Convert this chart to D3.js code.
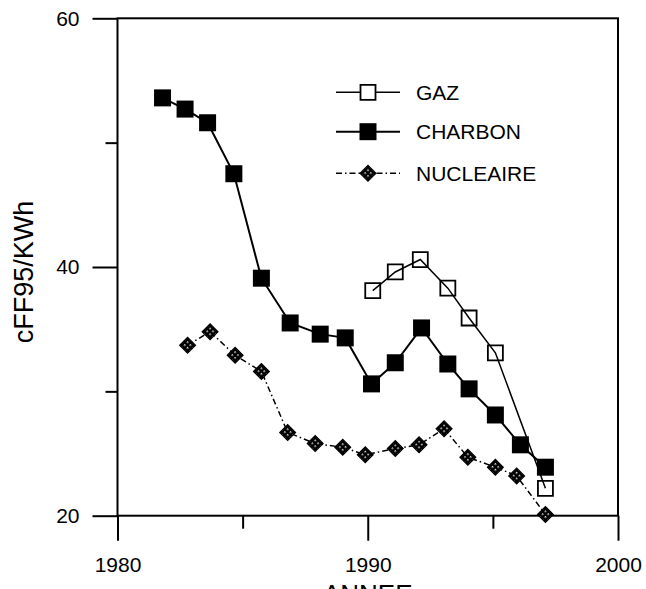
<!DOCTYPE html>
<html>
<head>
<meta charset="utf-8">
<script src="https://cdn.jsdelivr.net/npm/d3@7"></script>
<style>
	body { margin: 0; background: #fff; }
	text { font-family: Arial, "Liberation Sans", sans-serif; fill: #000; }
	.axis path { display: none; }
	.axis line { stroke: #000; stroke-width: 2; }
	.axis text { font-size: 21px; }
</style>
</head>
<body>
<svg class="chart"></svg>
<script>
// data
var gazYears = [1990.2, 1991.1, 1992.1, 1993.2, 1994.05, 1995.1, 1997.1];
var gazValues = [38.1, 39.6, 40.6, 38.3, 35.9, 33.1, 22.2];

var charbonYears = [1981.8, 1982.7, 1983.6, 1984.65, 1985.75, 1986.9, 1988.1, 1989.1,
	1990.15, 1991.1, 1992.15, 1993.2, 1994.05, 1995.1, 1996.1, 1997.1];
var charbonValues = [53.6, 52.7, 51.6, 47.5, 39.1, 35.5, 34.6, 34.3,
	30.6, 32.3, 35.1, 32.2, 30.2, 28.1, 25.7, 23.9];

var nucleaireYears = [1982.8, 1983.7, 1984.7, 1985.75, 1986.8, 1987.9, 1989.0, 1989.9,
	1991.1, 1992.05, 1993.05, 1994.0, 1995.1, 1995.95, 1997.1];
var nucleaireValues = [33.7, 34.8, 32.9, 31.6, 26.7, 25.8, 25.5, 24.9,
	25.4, 25.7, 27.0, 24.7, 23.9, 23.2, 20.1];

var xMajorTicks = [1980, 1990, 2000];
var xMinorTicks = [1985, 1995];
var yMajorTicks = [20, 40, 60];
var yMinorTicks = [30, 50];

var seriesNames = ["GAZ", "CHARBON", "NUCLEAIRE"];

function drawChart() {
	var margin = {top: 18.3, left: 117.5},
		width = 500.5,
		height = 497.4;

	var svg = d3.select(".chart")
		.attr("width", 646)
		.attr("height", 589);

	// diamond fill: dark with light dots
	var pat = svg.append("defs").append("pattern")
		.attr("id", "dots")
		.attr("patternUnits", "userSpaceOnUse")
		.attr("width", 4)
		.attr("height", 4);
	pat.append("rect").attr("width", 4).attr("height", 4).attr("fill", "#000");
	pat.append("rect").attr("x", 1).attr("y", 1).attr("width", 1.5).attr("height", 1.5).attr("fill", "#eee");

	var chart = svg.append("g")
		.attr("transform", "translate(" + margin.left + "," + margin.top + ")");

	var x = d3.scaleLinear().domain([1980, 2000]).range([0, width]);
	var y = d3.scaleLinear().domain([20, 60]).range([height, 0]);

	// y axis, major and minor ticks
	chart.append("g")
		.attr("class", "y axis")
		.call(d3.axisLeft(y).tickValues(yMajorTicks).tickSize(25).tickPadding(13).tickFormat(d3.format("d")));
	chart.append("g")
		.attr("class", "y axis minor")
		.call(d3.axisLeft(y).tickValues(yMinorTicks).tickSize(12).tickFormat(""));

	// x axis, major and minor ticks
	chart.append("g")
		.attr("class", "x axis")
		.attr("transform", "translate(0," + height + ")")
		.call(d3.axisBottom(x).tickValues(xMajorTicks).tickSize(25).tickPadding(16).tickFormat(d3.format("d")));
	chart.append("g")
		.attr("class", "x axis minor")
		.attr("transform", "translate(0," + height + ")")
		.call(d3.axisBottom(x).tickValues(xMinorTicks).tickSize(13).tickFormat(""));

	// frame
	chart.append("rect")
		.attr("width", width)
		.attr("height", height)
		.attr("fill", "none")
		.attr("stroke", "#000")
		.attr("stroke-width", 2);

	// axis titles
	chart.append("text")
		.attr("transform", "translate(" + (24 - margin.left) + "," + (y(40) + 5) + ") rotate(-90)")
		.attr("text-anchor", "middle")
		.attr("dy", "0.35em")
		.style("font-size", "27px")
		.text("cFF95/KWh");

	// x title sits partly below the bottom edge, as in the source picture
	chart.append("text")
		.attr("x", x(1990))
		.attr("y", 602.6 - margin.top)
		.attr("text-anchor", "middle")
		.style("font-size", "26px")
		.text("ANNEE");

	var line = d3.line()
		.x(function(d) { return x(d.year); })
		.y(function(d) { return y(d.value); });

	function zip(years, values) {
		return years.map(function(yr, i) { return {year: yr, value: values[i]}; });
	}

	var gaz = zip(gazYears, gazValues),
		charbon = zip(charbonYears, charbonValues),
		nucleaire = zip(nucleaireYears, nucleaireValues);

	var sqFilled = d3.symbol().type(d3.symbolSquare).size(289),
		sqOpen = d3.symbol().type(d3.symbolSquare).size(225),
		diamond = d3.symbol().type(d3.symbolSquare).size(125);

	// Nucleaire
	chart.append("path")
		.datum(nucleaire)
		.attr("fill", "none")
		.attr("stroke", "#000")
		.attr("stroke-width", 1.5)
		.attr("stroke-dasharray", "6,3,1.5,3")
		.attr("d", line);
	chart.selectAll(".nuc")
		.data(nucleaire)
	  .enter().append("path")
		.attr("class", "nuc")
		.attr("transform", function(d) { return "translate(" + x(d.year) + "," + y(d.value) + ") rotate(45)"; })
		.attr("d", diamond)
		.attr("fill", "url(#dots)")
		.attr("stroke", "#000")
		.attr("stroke-width", 1.2);

	// Charbon
	chart.append("path")
		.datum(charbon)
		.attr("fill", "none")
		.attr("stroke", "#000")
		.attr("stroke-width", 2)
		.attr("d", line);
	chart.selectAll(".cha")
		.data(charbon)
	  .enter().append("path")
		.attr("class", "cha")
		.attr("transform", function(d) { return "translate(" + x(d.year) + "," + y(d.value) + ")"; })
		.attr("d", sqFilled)
		.attr("fill", "#000");

	// Gaz
	chart.append("path")
		.datum(gaz)
		.attr("fill", "none")
		.attr("stroke", "#000")
		.attr("stroke-width", 1.5)
		.attr("d", line);
	chart.selectAll(".gaz")
		.data(gaz)
	  .enter().append("path")
		.attr("class", "gaz")
		.attr("transform", function(d) { return "translate(" + x(d.year) + "," + y(d.value) + ")"; })
		.attr("d", sqOpen)
		.attr("fill", "none")
		.attr("stroke", "#000")
		.attr("stroke-width", 1.8);

	// Legend
	var legend = svg.append("g").attr("class", "legend");
	var rowsY = [92.3, 131.7, 173.3];
	seriesNames.forEach(function(name, i) {
		var row = legend.append("g").attr("transform", "translate(0," + rowsY[i] + ")");
		row.append("line")
			.attr("x1", 336).attr("x2", 400)
			.attr("stroke", "#000")
			.attr("stroke-width", i == 1 ? 2 : 1.5)
			.attr("stroke-dasharray", i == 2 ? "6,3,1.5,3" : null);
		var mark = row.append("path").attr("transform", "translate(368,0)" + (i == 2 ? " rotate(45)" : ""));
		if (i == 0) {
			mark.attr("d", sqOpen).attr("fill", "#fff").attr("stroke", "#000").attr("stroke-width", 1.8);
		} else if (i == 1) {
			mark.attr("d", sqFilled).attr("fill", "#000");
		} else {
			mark.attr("d", diamond).attr("fill", "url(#dots)").attr("stroke", "#000").attr("stroke-width", 1.2);
		}
		row.append("text")
			.attr("x", 416)
			.attr("dy", "0.36em")
			.style("font-size", "21px")
			.text(name);
	});
}

drawChart();
</script>
</body>
</html>
